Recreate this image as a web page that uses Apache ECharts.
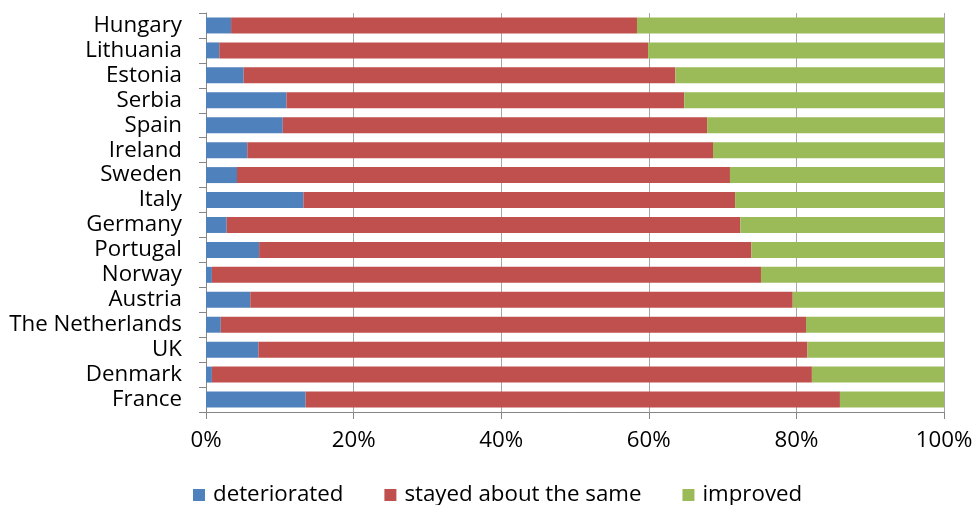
<!DOCTYPE html>
<html>
<head>
<meta charset="utf-8">
<script src="https://cdn.jsdelivr.net/npm/echarts@6/dist/echarts.min.js"></script>
<style>
html,body{margin:0;padding:0;background:#fff;}
#chart{width:976px;height:505px;}
</style>
</head>
<body>
<div id="chart"></div>
<script>
const categories = ["Hungary","Lithuania","Estonia","Serbia","Spain","Ireland","Sweden","Italy","Germany","Portugal","Norway","Austria","The Netherlands","UK","Denmark","France"];
const deteriorated = [3.4, 1.8, 5.1, 10.9, 10.4, 5.6, 4.2, 13.2, 2.8, 7.2, 0.8, 6.0, 2.0, 7.1, 0.8, 13.5];
const stayedSame   = [55.0, 58.1, 58.5, 53.9, 57.5, 63.1, 66.8, 58.5, 69.6, 66.7, 74.4, 73.5, 79.3, 74.4, 81.3, 72.4];
const improved     = [41.6, 40.1, 36.4, 35.2, 32.1, 31.3, 29.0, 28.3, 27.6, 26.1, 24.8, 20.5, 18.7, 18.5, 17.9, 14.1];
const xTicks = ["0%","20%","40%","60%","80%","100%"];

const FONT = "Open Sans";
const FS = 22.3;
const chart = echarts.init(document.getElementById('chart'), null, {renderer:'canvas'});
function mk(name, data, color){
  return {name:name, type:'bar', stack:'t', data:data, barCategoryGap:'36%',
    itemStyle:{color:color}, emphasis:{disabled:true}};
}
chart.setOption({
  animation:false,
  textStyle:{fontFamily:FONT},
  grid:{left:206, right:32, top:13, bottom:93, containLabel:false},
  legend:{
    top:479, left:188,
    itemWidth:12, itemHeight:12, itemGap:41,
    textStyle:{fontFamily:FONT, fontSize:FS, color:'#000', padding:[0,0,0,3]},
    icon:'rect',
    data:['deteriorated','stayed about the same','improved']
  },
  xAxis:{
    type:'value', min:0, max:100, interval:20,
    axisLine:{show:true, lineStyle:{color:'#868686', width:1}},
    axisTick:{show:true, length:7, lineStyle:{color:'#868686'}},
    splitLine:{show:true, lineStyle:{color:'#A6A6A6', width:1}},
    axisLabel:{fontFamily:FONT, fontSize:FS, color:'#000', margin:18,
      formatter:function(v){ return xTicks[Math.round(v/20)]; }}
  },
  yAxis:{
    type:'category', data:categories, inverse:true,
    axisLine:{show:true, lineStyle:{color:'#868686', width:1}},
    axisTick:{show:true, length:7, lineStyle:{color:'#868686'}},
    axisLabel:{fontFamily:FONT, fontSize:FS, color:'#000', margin:24, interval:0,
      padding:[6,0,0,0]}
  },
  series:[
    mk('deteriorated', deteriorated, '#4F81BD'),
    mk('stayed about the same', stayedSame, '#C0504D'),
    mk('improved', improved, '#9BBB59')
  ]
});
</script>
</body>
</html>
